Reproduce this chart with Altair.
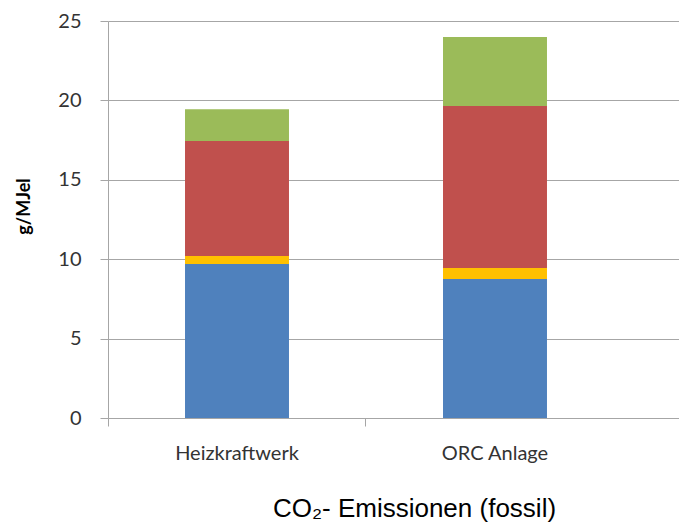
import altair as alt
import pandas as pd

# Stacked CO2 emission shares per plant type (g/MJel)
anlagen = ["Heizkraftwerk", "ORC Anlage"]
komponenten = ["Komponente A", "Komponente B", "Komponente C", "Komponente D"]
werte_heizkraftwerk = [9.7, 0.5, 7.25, 2.0]
werte_orc = [8.75, 0.7, 10.2, 4.35]
farben = ["#4F81BD", "#FFC000", "#C0504D", "#9BBB59"]
y_ticks = [0, 5, 10, 15, 20, 25]

rows = []
for anlage, werte in zip(anlagen, [werte_heizkraftwerk, werte_orc]):
    for i, (k, v) in enumerate(zip(komponenten, werte)):
        rows.append({"Anlage": anlage, "Komponente": k, "Wert": v, "Reihenfolge": i})
df = pd.DataFrame(rows)

label_font = "Lato"
grid_color = "#A6A6A6"

chart = (
    alt.Chart(df)
    .mark_bar(width=alt.RelativeBandSize(0.403))
    .encode(
        x=alt.X(
            "Anlage:N",
            sort=anlagen,
            # bands start at the left edge; remaining space sits on the right
            scale=alt.Scale(range=[0, 571], paddingInner=0, paddingOuter=0.1066, align=0),
            axis=alt.Axis(
                title=None,
                labelAngle=0,
                domain=False,
                bandPosition=0,
                tickColor=grid_color,
                tickSize=8,
                labelFont=label_font,
                labelFontSize=20,
                labelColor="#333333",
                labelPadding=17,
            ),
        ),
        y=alt.Y(
            "Wert:Q",
            stack="zero",
            scale=alt.Scale(domain=[0, 25]),
            axis=alt.Axis(
                title="g/MJel",
                values=y_ticks,
                domainColor=grid_color,
                tickColor=grid_color,
                tickSize=8,
                gridColor=grid_color,
                labelFont=label_font,
                labelFontSize=20,
                labelColor="#333333",
                labelPadding=19,
                titleFont=label_font,
                titleFontSize=18,
                titleFontWeight="bold",
                titleColor="#000000",
                titleX=-75,
                titleY=185,
            ),
        ),
        color=alt.Color(
            "Komponente:N",
            sort=komponenten,
            scale=alt.Scale(domain=komponenten, range=farben),
            legend=None,
        ),
        order=alt.Order("Reihenfolge:Q"),
    )
    .properties(
        width=571,
        height=397,
        autosize="none",
        padding={"left": 108, "top": 21, "right": 0, "bottom": 105},
        title=alt.TitleParams(
            "CO₂- Emissionen (fossil)",
            orient="bottom",
            anchor="middle",
            frame="group",
            dx=21,
            offset=33,
            font="Liberation Sans",
            fontSize=26,
            fontWeight="normal",
            color="#000000",
        ),
    )
    .configure_view(stroke=None)
)

chart.save("out.html", embed_options={"renderer": "svg", "actions": False})
